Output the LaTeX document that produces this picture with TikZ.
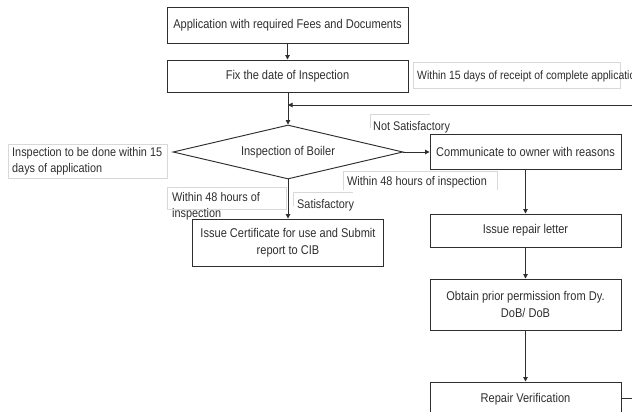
\documentclass[tikz,border=0pt]{standalone}
\usepackage{fontspec}
\setmainfont{Liberation Sans}[FakeStretch=0.87]
\usetikzlibrary{shapes.geometric,arrows.meta}
\definecolor{ink}{HTML}{2E2E2E}
\definecolor{faint}{HTML}{D8D8D8}
\tikzset{
  box/.style={draw=ink, line width=0.95pt, rectangle, inner sep=0pt, align=center,
    text=ink, font=\fontsize{12.7}{17.5}\selectfont},
  decide/.style={draw=ink, line width=0.95pt, diamond, inner sep=0pt, aspect=4.2,
    text=ink, font=\fontsize{12.7}{17}\selectfont},
  frame/.style={draw=faint, line width=0.6pt},
  lbl/.style={anchor=west, inner sep=0pt, align=left, text=ink,
    font=\fontsize{12.5}{16}\selectfont},
  flow/.style={draw=ink, line width=0.95pt, -{Triangle[length=4.5pt,width=4.5pt]}},
  plain/.style={draw=ink, line width=0.95pt}
}
\begin{document}
\begin{tikzpicture}[x=1pt,y=-1pt]
\useasboundingbox (0,0) rectangle (632,412);
\clip (0,0) rectangle (632,412);

% main boxes
\node[box, minimum width=241pt, minimum height=36pt] (app) at (287.5,25) {Application with required Fees and Documents};
\node[box, minimum width=241pt, minimum height=32pt] (fix) at (287.5,76) {Fix the date of Inspection};
\node[decide, minimum width=230pt, minimum height=54pt] (insp) at (288,152) {Inspection of Boiler};
\node[box, minimum width=191pt, minimum height=47pt] (cert) at (288,242.5) {Issue Certificate for use and Submit\\report to CIB};
\node[box, minimum width=191pt, minimum height=35pt] (comm) at (525.5,151.5) {Communicate to owner with reasons};
\node[box, minimum width=191pt, minimum height=33pt] (rep) at (525.5,230.5) {Issue repair letter};
\node[box, minimum width=191pt, minimum height=51pt] (obt) at (525.5,304.5) {Obtain prior permission from Dy.\\DoB/ DoB};
\node[box, minimum width=191pt, minimum height=34pt] (ver) at (525.5,399) {Repair Verification};

% faint label frames
\draw[frame] (413,62) rectangle (620,88);
\draw[frame] (370,128) -- (370,114) -- (430,114);
\draw[frame] (8,144) rectangle (167,178);
\draw[frame] (343,190) -- (343,171) -- (497,171) -- (497,190);
\draw[frame] (167,209) -- (167,187) -- (286,187) -- (286,209) -- (167,209);
\draw[frame] (293,206) -- (293,192) -- (353,192);

% labels
\node[lbl, font=\fontsize{12}{16}\selectfont] (l15) at (417,76) {Within 15 days of receipt of complete application};
\node[lbl] (lns) at (373,127) {Not Satisfactory};
\node[lbl] (lin) at (12,161) {Inspection to be done within 15\\days of application};
\node[lbl] (l48a) at (347,182) {Within 48 hours of inspection};
\node[lbl] (l48b) at (172,206) {Within 48 hours of\\inspection};
\node[lbl] (lsat) at (297,205) {Satisfactory};

% connectors
\coordinate (fbR) at (640,105);
\coordinate (fbL) at (288,105);
\coordinate (verR) at (640,398);
\draw[flow] (app) -- (fix);
\draw[flow] (fix.south -| insp.north) -- (insp.north);
\draw[flow] (fbR) -- (fbL);
\draw[flow] (insp.east) -- (insp.east -| comm.west);
\draw[flow] (insp.south) -- (cert.north);
\draw[flow] (comm) -- (rep);
\draw[flow] (rep) -- (obt);
\draw[flow] (obt) -- (ver);
\draw[plain] (ver.east |- verR) -- (verR);
\end{tikzpicture}
\end{document}
